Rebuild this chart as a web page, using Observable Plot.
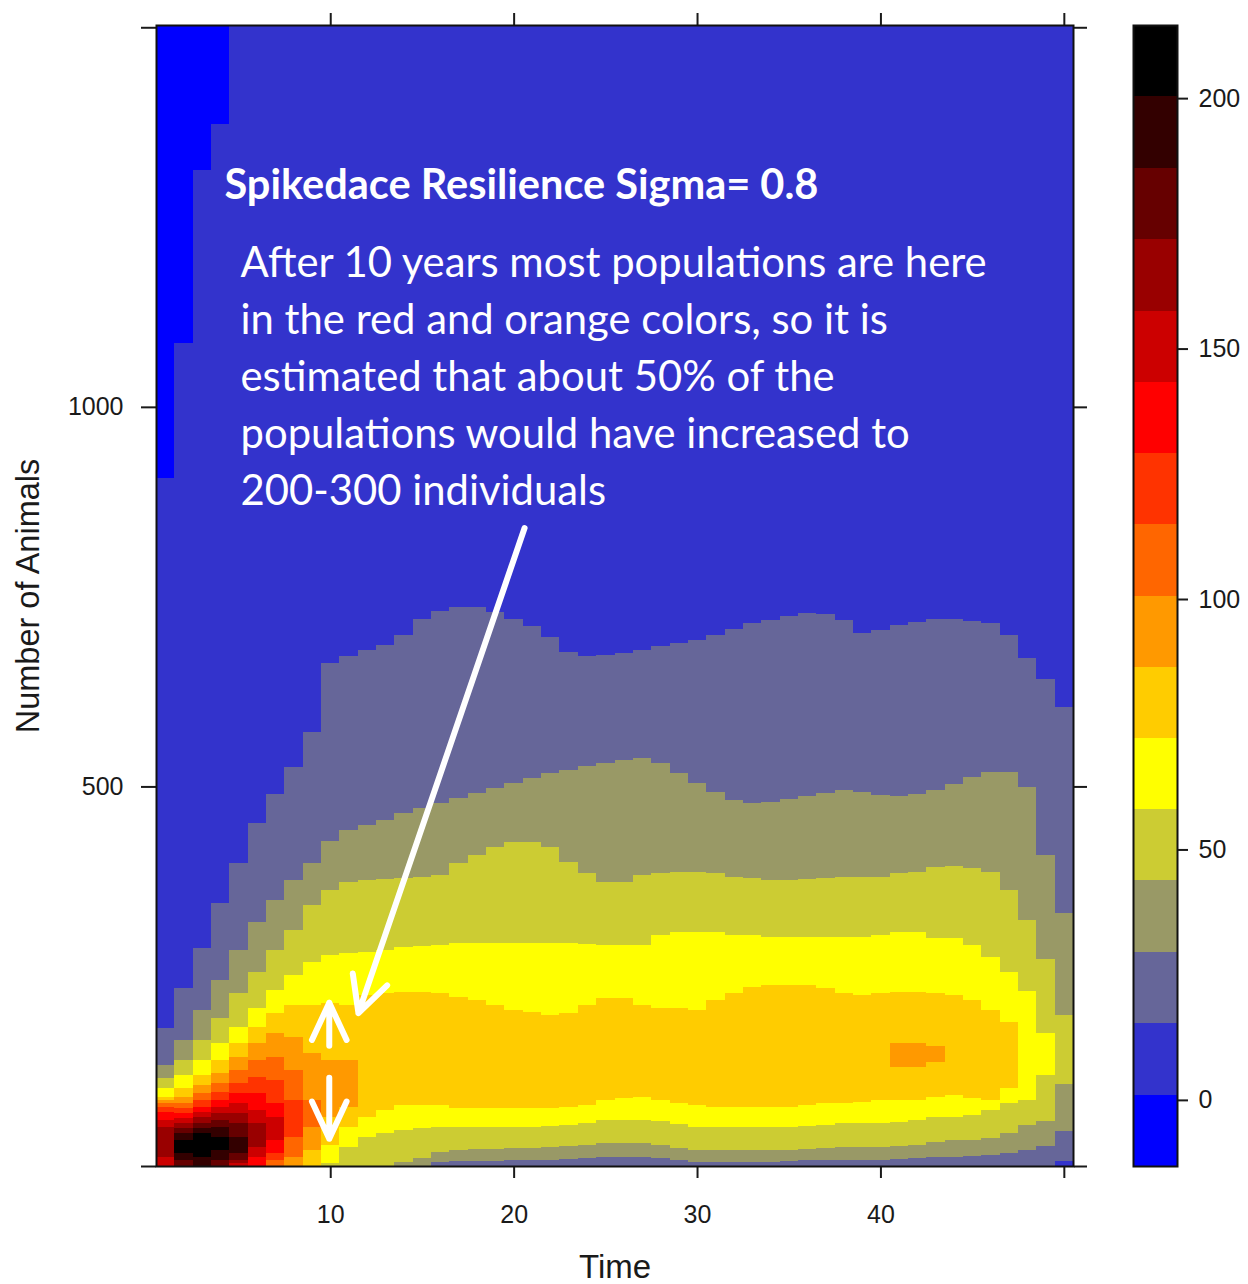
<!DOCTYPE html>
<html>
<head>
<meta charset="utf-8">
<script src="https://cdn.jsdelivr.net/npm/d3@7"></script>
<script src="https://cdn.jsdelivr.net/npm/@observablehq/plot@0.6"></script>
<style>
  html, body { margin: 0; background: #fff; }
  #chart { position: relative; width: 1248px; height: 1284px; overflow: hidden; background: #fff; }
  #chart > svg { position: absolute; top: 0; }
</style>
</head>
<body>
<div id="chart"></div>
<script>
// Time steps (years) and the top of the "Number of Animals" axis
const time = d3.range(1, 51);
const earlyTime = d3.range(1, 12);
const yMax = 1503;

// Level breaks of the density key and the colour of each interval
const breaks = [-13.2, 1.0, 15.3, 29.5, 43.8, 58.0, 72.2, 86.5, 100.7, 114.9, 129.2, 143.4, 157.6, 171.9, 186.1, 200.4, 214.6];
const palette = ["#0000FF", "#3333CC", "#666699", "#999966", "#CCCC33", "#FFFF00", "#FFCC00", "#FF9900",
                 "#FF6600", "#FF3300", "#FF0000", "#CC0000", "#990000", "#660000", "#330000", "#000000"];
const keyTicks = [0, 50, 100, 150, 200];
const xTicks = [10, 20, 30, 40, 50];
const yTicks = [0, 500, 1000, 1500];

// Cells with a count of zero (top-left corner): from these animal counts up to the top
const zeroTime = [1, 2, 3, 4];
const zeroBottom = [906, 1084, 1312, 1372];

// For each level, the span of animal counts (bottom..top) per year where the density reaches it
const top2 = [182, 235, 287, 347, 399, 452, 490, 526, 572, 663, 672, 680, 686, 700, 721, 731, 736, 736, 730, 721,
              711, 697, 677, 672, 673, 676, 680, 685, 689, 693, 700, 707, 715, 719, 725, 729, 727, 719, 702, 706,
              713, 717, 721, 721, 718, 715, 700, 669, 642, 605];
const bot2 = [0, 0, 0, 0, 0, 0, 0, 0, 0, 0, 0, 0, 0, 0, 0, 0, 0, 0, 0, 0,
              0, 0, 0, 0, 0, 0, 0, 0, 0, 0, 0, 0, 0, 0, 0, 0, 0, 0, 0, 0,
              0, 0, 0, 0, 0, 0, 0, 0, 0, 7];

const top3 = [133, 166, 206, 245, 285, 321, 350, 377, 399, 428, 443, 449, 456, 465, 472, 478, 485, 491, 498, 505,
              511, 518, 522, 527, 531, 535, 538, 531, 518, 505, 493, 482, 478, 480, 484, 487, 491, 495, 493, 489,
              487, 490, 495, 503, 512, 519, 519, 499, 410, 333];
const bot3 = [0, 0, 0, 0, 0, 0, 0, 0, 0, 0, 0, 0, 0, 0, 0, 5, 7, 7, 7, 8,
              8, 8, 9, 11, 12, 12, 12, 11, 8, 5, 5, 5, 5, 5, 7, 8, 8, 8, 8, 8,
              9, 11, 12, 12, 13, 14, 17, 21, 26, 46];

const top4 = [116, 140, 166, 195, 228, 256, 285, 311, 344, 364, 374, 377, 378, 379, 381, 383, 399, 410, 420, 427,
              427, 420, 401, 386, 374, 374, 383, 386, 387, 387, 386, 381, 379, 377, 377, 378, 379, 381, 381, 381,
              386, 387, 394, 395, 393, 387, 364, 324, 273, 199];
const bot4 = [0, 0, 0, 0, 0, 0, 0, 0, 0, 0, 0, 0, 0, 5, 11, 18, 21, 22, 22, 24,
              24, 25, 26, 28, 30, 30, 30, 28, 24, 21, 21, 21, 21, 21, 21, 22, 24, 25, 25, 25,
              26, 28, 32, 34, 34, 37, 43, 54, 59, 108];

const top5 = [103, 120, 140, 162, 183, 208, 232, 252, 269, 278, 281, 282, 285, 289, 290, 291, 294, 294, 294, 294,
              294, 294, 294, 292, 291, 291, 291, 304, 308, 308, 308, 304, 304, 302, 302, 302, 302, 302, 302, 304,
              308, 308, 300, 300, 291, 275, 256, 231, 175, null];
const bot5 = [0, 0, 0, 0, 0, 0, 0, 0, 0, 4, 25, 38, 43, 47, 50, 51, 51, 51, 51, 51,
              51, 53, 54, 57, 61, 61, 61, 59, 55, 51, 51, 51, 51, 51, 51, 53, 54, 57, 57, 57,
              58, 61, 65, 65, 67, 74, 83, 87, 120, null];

const top6 = [91, 103, 120, 140, 162, 183, 202, 212, 212, 215, 212, 225, 228, 229, 229, 228, 223, 219, 212, 206,
              203, 199, 202, 212, 221, 221, 212, 208, 208, 206, 219, 228, 236, 238, 238, 238, 235, 228, 225, 228,
              229, 229, 228, 225, 219, 206, 190, null, null, null];
const bot6 = [0, 0, 0, 0, 0, 0, 0, 0, 0, 28, 51, 65, 74, 80, 80, 80, 76, 76, 76, 76,
              76, 76, 78, 80, 87, 90, 91, 87, 83, 80, 78, 78, 78, 78, 78, 80, 83, 83, 84, 87,
              87, 87, 91, 94, 90, 87, 103, null, null, null];

// Higher levels only occur during the first eleven years
const top7 = [87, 91, 107, 123, 144, 162, 175, 170, 149, 140, 140];
const bot7 = [0, 0, 0, 0, 0, 0, 0, 0, 21, 65, 78];
const top8 = [83, 83, 96, 109, 126, 140, 144, 126, 87, null, null];
const bot8 = [0, 0, 0, 0, 0, 0, 0, 12, 51, null, null];
const top9 = [78, 76, 87, 97, 109, 117, 113, 87, null, null, null];
const bot9 = [0, 0, 0, 0, 0, 0, 8, 38, null, null, null];
const top10 = [71, 70, 78, 87, 96, 96, 83, null, null, null, null];
const bot10 = [0, 0, 0, 0, 0, 0, 17, null, null, null, null];
const top11 = [61, 63, 71, 78, 83, 74, 65, null, null, null, null];
const bot11 = [0, 0, 0, 0, 0, 12, 34, null, null, null, null];
const top12 = [51, 57, 65, 70, 70, 57, null, null, null, null, null];
const bot12 = [12, 0, 0, 0, 4, 25, null, null, null, null, null];
const top13 = [null, 50, 57, 61, 57, null, null, null, null, null, null];
const bot13 = [null, 0, 0, 0, 8, null, null, null, null, null, null];
const top14 = [null, 43, 50, 51, 38, null, null, null, null, null, null];
const bot14 = [null, 8, 0, 8, 17, null, null, null, null, null, null];
const top15 = [null, 34, 43, 38, null, null, null, null, null, null, null];
const bot15 = [null, 17, 12, 21, null, null, null, null, null, null, null];

// Small late patch at the orange level
const lateTime = [41, 42, 43];
const lateTop7 = [162, 162, 158];
const lateBot7 = [130, 130, 137];

// Representative value of each level (its interval midpoint) for the colour scale
const mid = palette.map((_, k) => (breaks[k] + breaks[k + 1]) / 2);
const thresholds = breaks.slice(1, -1);
const colorScale = {type: "threshold", domain: thresholds, range: palette};

function band(level, times, top, bottom) {
  return times
    .map((t, i) => ({t, level, top: top[i], bottom: bottom[i]}))
    .filter(d => d.top != null);
}

// Painted from the lowest level upward so higher levels sit on top
const cells = [
  ...time.map(t => ({t, level: 1, bottom: 0, top: yMax})),
  ...zeroTime.map((t, i) => ({t, level: 0, bottom: zeroBottom[i], top: yMax})),
  ...band(2, time, top2, bot2),
  ...band(3, time, top3, bot3),
  ...band(4, time, top4, bot4),
  ...band(5, time, top5, bot5),
  ...band(6, time, top6, bot6),
  ...band(7, earlyTime, top7, bot7),
  ...band(7, lateTime, lateTop7, lateBot7),
  ...band(8, earlyTime, top8, bot8),
  ...band(9, earlyTime, top9, bot9),
  ...band(10, earlyTime, top10, bot10),
  ...band(11, earlyTime, top11, bot11),
  ...band(12, earlyTime, top12, bot12),
  ...band(13, earlyTime, top13, bot13),
  ...band(14, earlyTime, top14, bot14),
  ...band(15, earlyTime, top15, bot15)
];

const axisFont = "'Liberation Sans', Arial, Helvetica, sans-serif";
const noteFont = "Lato, 'Open Sans', sans-serif";

// Chevron-headed arrow used for the short up/down markers
const chevron = {
  draw(context, l) {
    const wing = 41, spread = 25 * Math.PI / 180;
    context.moveTo(0, 0);
    context.lineTo(0, -l);
    context.moveTo(-wing * Math.sin(spread), -l + wing * Math.cos(spread));
    context.lineTo(0, -l);
    context.lineTo(wing * Math.sin(spread), -l + wing * Math.cos(spread));
  }
};

const note = [
  "After 10 years most populations are here",
  "in the red and orange colors, so it is",
  "estimated that about 50% of the",
  "populations would have increased to",
  "200-300 individuals"
].join("\n");

const main = Plot.plot({
  width: 1248,
  height: 1284,
  marginLeft: 156,
  marginRight: 175,
  marginTop: 25,
  marginBottom: 118,
  x: {domain: [0.5, 50.5]},
  y: {domain: [0, yMax]},
  color: colorScale,
  style: {background: "transparent", fontFamily: axisFont, color: "#1a1a1a"},
  marks: [
    Plot.rect(cells, {
      x1: d => d.t - 0.5,
      x2: d => d.t + 0.5,
      y1: "bottom",
      y2: "top",
      fill: d => mid[d.level],
      shapeRendering: "crispEdges"
    }),
    Plot.axisX({anchor: "bottom", ticks: xTicks, tickFormat: d => (d === 50 ? "" : String(d)),
                tickSize: 12, tickPadding: 27, fontSize: 25, label: null, strokeWidth: 2}),
    Plot.axisX({anchor: "top", ticks: xTicks, tickFormat: () => "", tickSize: 13, label: null, strokeWidth: 2}),
    Plot.axisY({anchor: "left", ticks: yTicks, tickFormat: d => (d === 500 || d === 1000 ? String(d) : ""),
                tickSize: 15, tickPadding: 18, fontSize: 25, label: null, strokeWidth: 2}),
    Plot.axisY({anchor: "right", ticks: yTicks, tickFormat: () => "", tickSize: 13, label: null, strokeWidth: 2}),
    Plot.frame({stroke: "#111", strokeWidth: 2}),
    Plot.text(["Time"], {text: d => d, frameAnchor: "bottom", dy: 101, textAnchor: "middle", lineAnchor: "middle",
                         fontSize: 33, fill: "#1a1a1a"}),
    Plot.text(["Number of Animals"], {text: d => d, frameAnchor: "left", dx: -128, rotate: -90,
                                      textAnchor: "middle", lineAnchor: "middle", fontSize: 32.5, fill: "#1a1a1a"}),
    Plot.text(["Spikedace Resilience Sigma= 0.8"], {
      text: d => d, frameAnchor: "top-left", dx: 68, dy: 160, textAnchor: "start", lineAnchor: "middle",
      fill: "white", fontFamily: noteFont, fontWeight: "bold", fontSize: 41.5
    }),
    Plot.text([note], {
      text: d => d, frameAnchor: "top-left", dx: 84, dy: 347, textAnchor: "start", lineAnchor: "middle",
      lineHeight: 57 / 41.8, fill: "white", fontFamily: noteFont, fontSize: 41.8
    }),
    Plot.arrow([0], {x1: 20.57, y1: 841, x2: 11.51, y2: 202, stroke: "white", strokeWidth: 6,
                     headLength: 10, headAngle: 54, strokeLinecap: "round", strokeLinejoin: "round"}),
    Plot.vector([0], {x: 9.92, y: 159, length: 43, rotate: 0, anchor: "start", shape: chevron,
                      stroke: "white", strokeWidth: 6, strokeLinecap: "round", strokeLinejoin: "round"}),
    Plot.vector([0], {x: 9.92, y: 117, length: 61, rotate: 180, anchor: "start", shape: chevron,
                      stroke: "white", strokeWidth: 6, strokeLinecap: "round", strokeLinejoin: "round"})
  ]
});
main.style.left = "0px";

// Colour key on the right
const bins = palette.map((_, k) => ({lo: breaks[k], hi: breaks[k + 1], v: mid[k]}));
const key = Plot.plot({
  width: 148,
  height: 1284,
  marginLeft: 33,
  marginRight: 71,
  marginTop: 25,
  marginBottom: 118,
  y: {domain: [breaks[0], breaks[breaks.length - 1]]},
  color: colorScale,
  style: {background: "transparent", fontFamily: axisFont, color: "#1a1a1a"},
  marks: [
    Plot.rect(bins, {y1: "lo", y2: "hi", fill: "v", shapeRendering: "crispEdges"}),
    Plot.frame({stroke: "#111", strokeWidth: 2}),
    Plot.axisY({anchor: "right", ticks: keyTicks, tickSize: 10, tickPadding: 11, fontSize: 25,
                label: null, strokeWidth: 2})
  ]
});
key.style.left = "1100px";

const chart = document.getElementById("chart");
chart.appendChild(main);
chart.appendChild(key);
</script>
</body>
</html>
